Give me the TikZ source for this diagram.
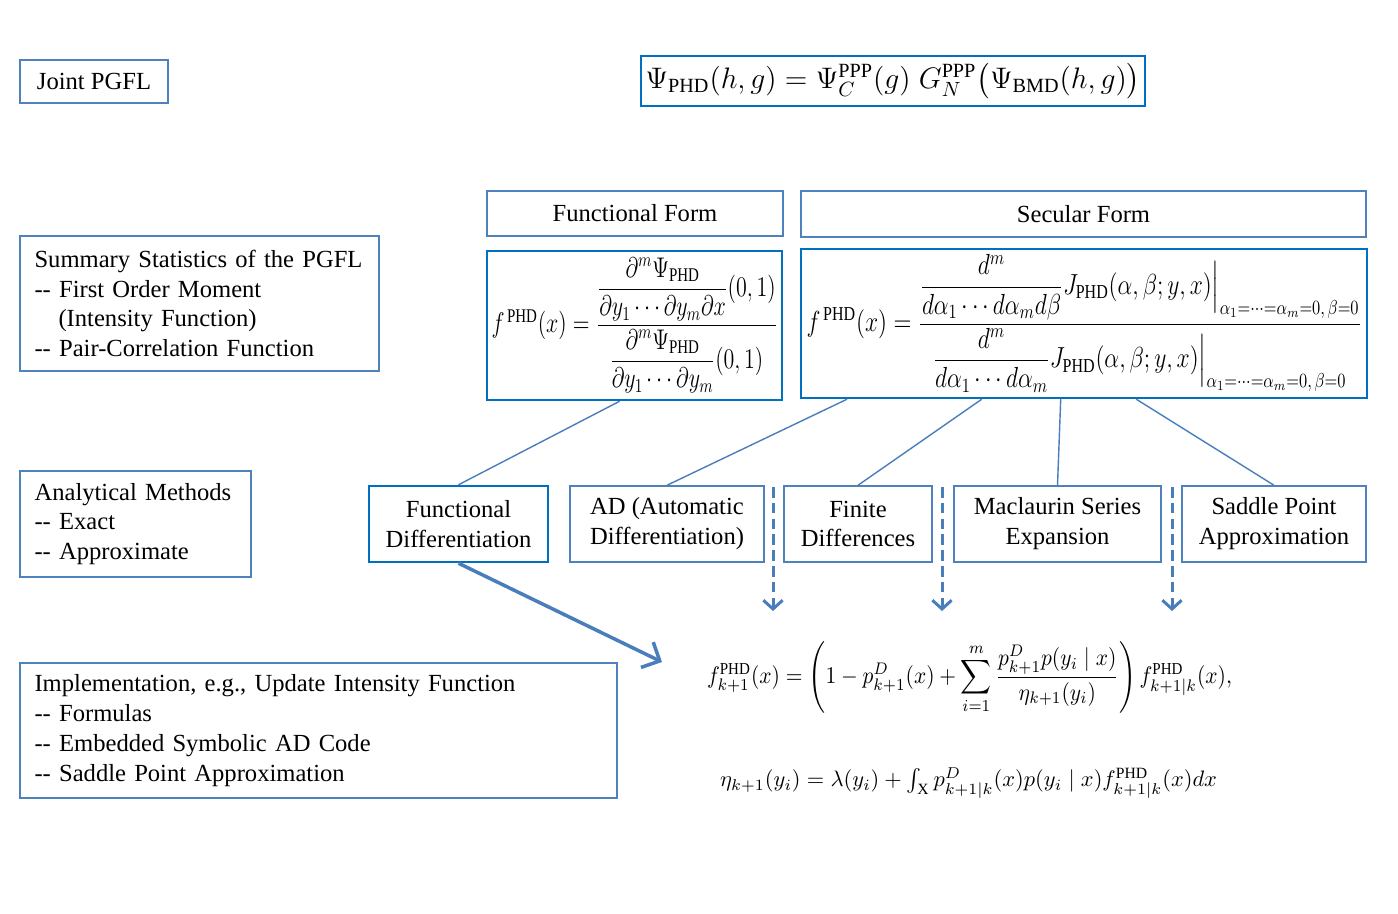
\documentclass[tikz,border=0pt]{standalone}
\usepackage{amsmath}
\usepackage{graphicx}
\usepackage{fontspec}
\setmainfont{Liberation Serif}
\usetikzlibrary{arrows.meta,calc}
\definecolor{thinblue}{HTML}{4F81BD}
\definecolor{thickblue}{HTML}{0070C0}
\definecolor{linkblue}{HTML}{4A7EBB}
\tikzset{
  box/.style={draw=thinblue,line width=0.85pt,rectangle,inner sep=0pt,align=center,font=\fontsize{14}{17}\selectfont},
  fbox/.style={draw=thickblue,line width=1.4pt,rectangle,inner sep=0pt,align=center,font=\fontsize{14}{17}\selectfont},
  lbox/.style={box,align=left},
  link/.style={draw=linkblue,line width=0.8pt},
  bigarrow/.style={draw=linkblue,line width=2pt,-{Straight Barb[length=8pt,width=16pt,line width=2pt]}},
  dasharrow/.style={draw=linkblue,line width=1.7pt,dashed,dash pattern=on 6pt off 3pt,-{Straight Barb[length=5pt,width=11pt,line width=1.7pt]}},
}
\newcommand{\rmPHD}{\mathrm{PHD}}
\begin{document}
\begin{tikzpicture}[x=0.02cm,y=-0.02cm]
\useasboundingbox (0,0) rectangle (1398,913);
% left column
\node[box,minimum width=2.96cm,minimum height=0.86cm] (joint) at (94,81.5) {Joint PGFL};
\node[lbox,minimum width=7.18cm,minimum height=2.7cm,text width=6.6cm] (summary) at (199.5,303.5)
 {Summary Statistics of the PGFL\\-{}- First Order Moment\\\hspace*{0.48cm}(Intensity Function)\\-{}- Pair-Correlation Function};
\node[lbox,minimum width=4.62cm,minimum height=2.12cm,text width=4.04cm] (analytical) at (135.5,524)
 {Analytical Methods\\-{}- Exact\\-{}- Approximate};
\node[lbox,minimum width=11.94cm,minimum height=2.7cm,text width=11.36cm] (impl) at (318.5,730.5)
 {Implementation, e.g., Update Intensity Function\\-{}- Formulas\\-{}- Embedded Symbolic AD Code\\-{}- Saddle Point Approximation};
% top formula
\node[fbox,minimum width=10.08cm,minimum height=1.0cm] (pgfl) at (893,81)
 {\resizebox{9.9cm}{!}{$\Psi_{\rmPHD}(h,g)=\Psi_C^{\mathrm{PPP}}(g)\;G_N^{\mathrm{PPP}}\big(\Psi_{\mathrm{BMD}}(h,g)\big)$}};
% headers
\node[box,minimum width=5.92cm,minimum height=0.9cm] (funcform) at (635,213.5) {Functional Form};
\node[box,minimum width=11.3cm,minimum height=0.92cm] (secform) at (1083.5,214) {Secular Form};
% formula boxes
\node[fbox,minimum width=5.9cm,minimum height=2.98cm] (lf) at (634.5,325.5)
 {\resizebox*{5.72cm}{2.72cm}{$f^{\,\rmPHD}(x)=\dfrac{\dfrac{\partial^m\Psi_{\rmPHD}}{\partial y_1\cdots\partial y_m\partial x}(0,1)}{\dfrac{\partial^m\Psi_{\rmPHD}}{\partial y_1\cdots\partial y_m}(0,1)}$}};
\node[fbox,minimum width=11.32cm,minimum height=2.98cm] (rf) at (1084,323.5)
 {\resizebox*{11.1cm}{2.75cm}{$f^{\,\rmPHD}(x)=\dfrac{\dfrac{d^m}{d\alpha_1\cdots d\alpha_m d\beta}J_{\rmPHD}(\alpha,\beta;y,x)\Big|_{\alpha_1=\cdots=\alpha_m=0,\,\beta=0}}{\dfrac{d^m}{d\alpha_1\cdots d\alpha_m}J_{\rmPHD}(\alpha,\beta;y,x)\Big|_{\alpha_1=\cdots=\alpha_m=0,\,\beta=0}}$}};
% method boxes
\node[fbox,minimum width=3.58cm,minimum height=1.52cm] (fd) at (458.5,524) {Functional\\Differentiation};
\node[box,minimum width=3.88cm,minimum height=1.52cm] (ad) at (667,524) {AD (Automatic\\Differentiation)};
\node[box,minimum width=2.96cm,minimum height=1.52cm] (finite) at (858,524) {Finite\\Differences};
\node[box,minimum width=4.14cm,minimum height=1.52cm] (maclaurin) at (1057.5,524) {Maclaurin Series\\Expansion};
\node[box,minimum width=3.68cm,minimum height=1.52cm] (saddle) at (1274,524) {Saddle Point\\Approximation};
% formulas bottom
\node[inner sep=0pt] (update) at (969.5,678)
 {\resizebox*{10.5cm}{1.45cm}{$f^{\rmPHD}_{k+1}(x)=\left(1-p^D_{k+1}(x)+\displaystyle\sum_{i=1}^m\frac{p^D_{k+1}p(y_i\mid x)}{\eta_{k+1}(y_i)}\right)f^{\rmPHD}_{k+1|k}(x),$}};
\node[inner sep=0pt] (eta) at (968.5,783)
 {\resizebox{9.94cm}{!}{$\eta_{k+1}(y_i)=\lambda(y_i)+\int_{\mathrm{X}}p^D_{k+1|k}(x)p(y_i\mid x)f^{\rmPHD}_{k+1|k}(x)dx$}};
% connectors
\draw[link] ($(lf.south west)!0.45!(lf.south east)$) -- (fd.north);
\draw[link] ($(rf.south west)!0.083!(rf.south east)$) -- (ad.north);
\draw[link] ($(rf.south west)!0.32!(rf.south east)$) -- (finite.north);
\draw[link] ($(rf.south west)!0.459!(rf.south east)$) -- (maclaurin.north);
\draw[link] ($(rf.south west)!0.592!(rf.south east)$) -- (saddle.north);
\coordinate (arrowend) at (662,662);
\draw[bigarrow] (fd.south) -- (arrowend);
\coordinate (d1s) at (773,487); \coordinate (d1e) at (773,611);
\coordinate (d2s) at (942,487); \coordinate (d2e) at (942,611);
\coordinate (d3s) at (1172,487); \coordinate (d3e) at (1172,611);
\draw[dasharrow] (d1s) -- (d1e);
\draw[dasharrow] (d2s) -- (d2e);
\draw[dasharrow] (d3s) -- (d3e);
\end{tikzpicture}
\end{document}
